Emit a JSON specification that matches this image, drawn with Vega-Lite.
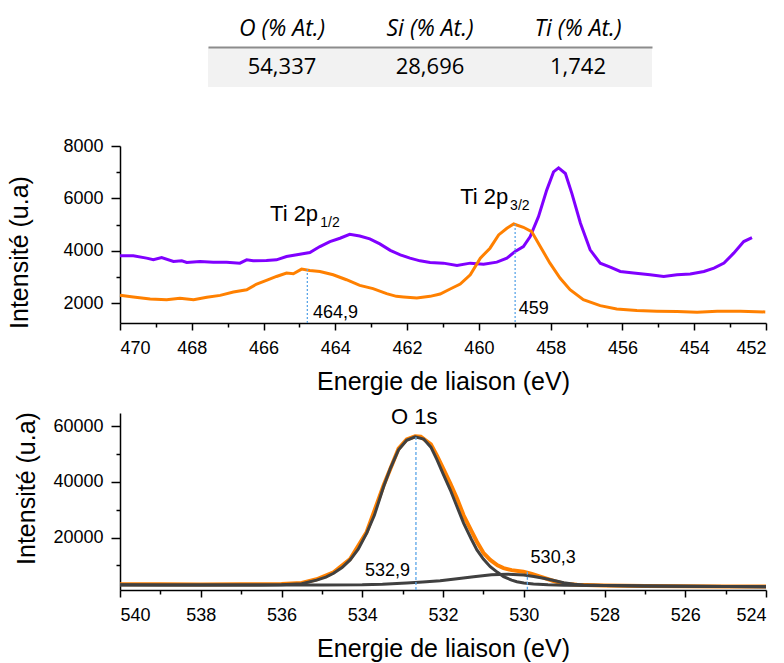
{
  "$schema": "https://vega.github.io/schema/vega-lite/v6.json",
  "background": "white",
  "padding": {"left": 6, "top": 7, "right": 5, "bottom": 5},
  "bounds": "flush",
  "spacing": 90,
  "config": {
    "view": {"stroke": null},
    "axis": {"domainColor": "#000", "domainWidth": 1.5, "tickColor": "#000", "tickWidth": 1.5, "labelFont": "Liberation Sans", "labelFontSize": 18, "labelColor": "#000", "titleFont": "Liberation Sans", "titleFontSize": 25, "titleFontWeight": "normal", "titleColor": "#000", "grid": false},
    "text": {"font": "Liberation Sans", "color": "#000"}
  },
  "datasets": {
    "table": [
      {"col": "O (% At.)", "row": "v", "val": "54,337"},
      {"col": "Si (% At.)", "row": "v", "val": "28,696"},
      {"col": "Ti (% At.)", "row": "v", "val": "1,742"}
    ],
    "ti": [
      {"s": "p", "E": 470, "v": 3812}, {"s": "p", "E": 469.63, "v": 3812}, {"s": "p", "E": 469.26, "v": 3724}, {"s": "p", "E": 469.07, "v": 3660}, {"s": "p", "E": 468.84, "v": 3747}, {"s": "p", "E": 468.51, "v": 3595}, {"s": "p", "E": 468.28, "v": 3620}, {"s": "p", "E": 468.14, "v": 3557}, {"s": "p", "E": 467.77, "v": 3595}, {"s": "p", "E": 467.4, "v": 3570}, {"s": "p", "E": 467.03, "v": 3570}, {"s": "p", "E": 466.66, "v": 3533}, {"s": "p", "E": 466.47, "v": 3660}, {"s": "p", "E": 466.29, "v": 3620}, {"s": "p", "E": 465.92, "v": 3635}, {"s": "p", "E": 465.64, "v": 3660}, {"s": "p", "E": 465.36, "v": 3785}, {"s": "p", "E": 464.99, "v": 3875}, {"s": "p", "E": 464.71, "v": 3937}, {"s": "p", "E": 464.43, "v": 4165}, {"s": "p", "E": 464.15, "v": 4355}, {"s": "p", "E": 463.87, "v": 4482}, {"s": "p", "E": 463.6, "v": 4634}, {"s": "p", "E": 463.32, "v": 4570}, {"s": "p", "E": 463.04, "v": 4457}, {"s": "p", "E": 462.76, "v": 4267}, {"s": "p", "E": 462.47, "v": 4020}, {"s": "p", "E": 462.19, "v": 3850}, {"s": "p", "E": 461.92, "v": 3724}, {"s": "p", "E": 461.64, "v": 3620}, {"s": "p", "E": 461.36, "v": 3557}, {"s": "p", "E": 460.99, "v": 3533}, {"s": "p", "E": 460.61, "v": 3443}, {"s": "p", "E": 460.24, "v": 3533}, {"s": "p", "E": 459.87, "v": 3495}, {"s": "p", "E": 459.5, "v": 3570}, {"s": "p", "E": 459.22, "v": 3724}, {"s": "p", "E": 458.99, "v": 3976}, {"s": "p", "E": 458.76, "v": 4165}, {"s": "p", "E": 458.57, "v": 4545}, {"s": "p", "E": 458.34, "v": 5304}, {"s": "p", "E": 458.11, "v": 6318}, {"s": "p", "E": 457.92, "v": 7013}, {"s": "p", "E": 457.78, "v": 7165}, {"s": "p", "E": 457.59, "v": 6952}, {"s": "p", "E": 457.41, "v": 6193}, {"s": "p", "E": 457.17, "v": 5053}, {"s": "p", "E": 456.9, "v": 4040}, {"s": "p", "E": 456.62, "v": 3533}, {"s": "p", "E": 456.34, "v": 3382}, {"s": "p", "E": 456.06, "v": 3215}, {"s": "p", "E": 455.69, "v": 3155}, {"s": "p", "E": 455.23, "v": 3090}, {"s": "p", "E": 454.85, "v": 3025}, {"s": "p", "E": 454.48, "v": 3090}, {"s": "p", "E": 454.11, "v": 3115}, {"s": "p", "E": 453.73, "v": 3215}, {"s": "p", "E": 453.45, "v": 3344}, {"s": "p", "E": 453.17, "v": 3533}, {"s": "p", "E": 452.9, "v": 3913}, {"s": "p", "E": 452.62, "v": 4355}, {"s": "p", "E": 452.39, "v": 4507},
      {"s": "o", "E": 470, "v": 2304}, {"s": "o", "E": 469.63, "v": 2243}, {"s": "o", "E": 469.16, "v": 2167}, {"s": "o", "E": 468.7, "v": 2140}, {"s": "o", "E": 468.33, "v": 2190}, {"s": "o", "E": 467.95, "v": 2140}, {"s": "o", "E": 467.58, "v": 2230}, {"s": "o", "E": 467.21, "v": 2304}, {"s": "o", "E": 466.84, "v": 2433}, {"s": "o", "E": 466.47, "v": 2520}, {"s": "o", "E": 466.19, "v": 2737}, {"s": "o", "E": 465.92, "v": 2874}, {"s": "o", "E": 465.64, "v": 3025}, {"s": "o", "E": 465.36, "v": 3155}, {"s": "o", "E": 465.17, "v": 3130}, {"s": "o", "E": 464.94, "v": 3306}, {"s": "o", "E": 464.71, "v": 3255}, {"s": "o", "E": 464.43, "v": 3215}, {"s": "o", "E": 464.06, "v": 3090}, {"s": "o", "E": 463.69, "v": 2900}, {"s": "o", "E": 463.32, "v": 2684}, {"s": "o", "E": 462.95, "v": 2560}, {"s": "o", "E": 462.57, "v": 2368}, {"s": "o", "E": 462.3, "v": 2266}, {"s": "o", "E": 462.1, "v": 2243}, {"s": "o", "E": 461.73, "v": 2205}, {"s": "o", "E": 461.36, "v": 2266}, {"s": "o", "E": 461.08, "v": 2357}, {"s": "o", "E": 460.8, "v": 2547}, {"s": "o", "E": 460.52, "v": 2737}, {"s": "o", "E": 460.24, "v": 3090}, {"s": "o", "E": 459.96, "v": 3724}, {"s": "o", "E": 459.69, "v": 4103}, {"s": "o", "E": 459.45, "v": 4609}, {"s": "o", "E": 459.22, "v": 4862}, {"s": "o", "E": 459.03, "v": 5027}, {"s": "o", "E": 458.76, "v": 4900}, {"s": "o", "E": 458.53, "v": 4735}, {"s": "o", "E": 458.29, "v": 4165}, {"s": "o", "E": 458.02, "v": 3533}, {"s": "o", "E": 457.74, "v": 2965}, {"s": "o", "E": 457.46, "v": 2520}, {"s": "o", "E": 457.09, "v": 2140}, {"s": "o", "E": 456.62, "v": 1913}, {"s": "o", "E": 456.16, "v": 1787}, {"s": "o", "E": 455.6, "v": 1723}, {"s": "o", "E": 455.04, "v": 1697}, {"s": "o", "E": 454.48, "v": 1685}, {"s": "o", "E": 453.92, "v": 1660}, {"s": "o", "E": 453.36, "v": 1697}, {"s": "o", "E": 452.71, "v": 1697}, {"s": "o", "E": 452.02, "v": 1672}
    ],
    "tiRules": [{"E": 464.78, "v": 3306}, {"E": 458.99, "v": 5027}],
    "tiPeaks": [{"E": 464.62, "v": 1445, "t": "464,9"}, {"E": 458.89, "v": 1608, "t": "459"}],
    "tiNames": [{"E": 465.82, "v": 5152, "t": "Ti 2p", "Es": 464.42, "sub": "1/2"}, {"E": 460.52, "v": 5787, "t": "Ti 2p", "Es": 459.13, "sub": "3/2"}],
    "o1s": [
      {"s": "o", "E": 540, "v": 3250}, {"s": "o", "E": 539, "v": 3200}, {"s": "o", "E": 538, "v": 3150}, {"s": "o", "E": 537, "v": 3200}, {"s": "o", "E": 536, "v": 3300}, {"s": "o", "E": 535.5, "v": 3700}, {"s": "o", "E": 535.13, "v": 5000}, {"s": "o", "E": 534.71, "v": 7500}, {"s": "o", "E": 534.3, "v": 12300}, {"s": "o", "E": 533.89, "v": 22000}, {"s": "o", "E": 533.47, "v": 38800}, {"s": "o", "E": 533.1, "v": 52000}, {"s": "o", "E": 532.9, "v": 55300}, {"s": "o", "E": 532.69, "v": 56400}, {"s": "o", "E": 532.55, "v": 56300}, {"s": "o", "E": 532.3, "v": 53500}, {"s": "o", "E": 532.15, "v": 49500}, {"s": "o", "E": 532.0, "v": 45000}, {"s": "o", "E": 531.82, "v": 39500}, {"s": "o", "E": 531.65, "v": 34000}, {"s": "o", "E": 531.49, "v": 28000}, {"s": "o", "E": 531.3, "v": 22500}, {"s": "o", "E": 531.16, "v": 18500}, {"s": "o", "E": 531.0, "v": 14500}, {"s": "o", "E": 530.83, "v": 11960}, {"s": "o", "E": 530.65, "v": 10000}, {"s": "o", "E": 530.5, "v": 9000}, {"s": "o", "E": 530.3, "v": 8300}, {"s": "o", "E": 530.01, "v": 7750}, {"s": "o", "E": 529.8, "v": 6900}, {"s": "o", "E": 529.59, "v": 5945}, {"s": "o", "E": 529.26, "v": 4400}, {"s": "o", "E": 529.0, "v": 3400}, {"s": "o", "E": 528.68, "v": 3000}, {"s": "o", "E": 528, "v": 2800}, {"s": "o", "E": 527, "v": 2600}, {"s": "o", "E": 526, "v": 2500}, {"s": "o", "E": 525, "v": 2450}, {"s": "o", "E": 524, "v": 2400},
      {"s": "g1", "E": 540, "v": 3000}, {"s": "g1", "E": 539, "v": 2980}, {"s": "g1", "E": 538, "v": 2960}, {"s": "g1", "E": 537, "v": 2950}, {"s": "g1", "E": 536.5, "v": 2950}, {"s": "g1", "E": 536, "v": 3000}, {"s": "g1", "E": 535.5, "v": 3400}, {"s": "g1", "E": 535.13, "v": 4700}, {"s": "g1", "E": 534.9, "v": 5800}, {"s": "g1", "E": 534.71, "v": 7170}, {"s": "g1", "E": 534.5, "v": 9200}, {"s": "g1", "E": 534.3, "v": 11960}, {"s": "g1", "E": 534.1, "v": 15800}, {"s": "g1", "E": 533.89, "v": 21590}, {"s": "g1", "E": 533.7, "v": 28000}, {"s": "g1", "E": 533.47, "v": 38380}, {"s": "g1", "E": 533.3, "v": 45000}, {"s": "g1", "E": 533.1, "v": 51600}, {"s": "g1", "E": 532.9, "v": 55000}, {"s": "g1", "E": 532.69, "v": 56200}, {"s": "g1", "E": 532.48, "v": 55460}, {"s": "g1", "E": 532.3, "v": 52500}, {"s": "g1", "E": 532.15, "v": 48000}, {"s": "g1", "E": 532.0, "v": 43000}, {"s": "g1", "E": 531.82, "v": 37190}, {"s": "g1", "E": 531.65, "v": 31000}, {"s": "g1", "E": 531.49, "v": 25190}, {"s": "g1", "E": 531.3, "v": 19500}, {"s": "g1", "E": 531.16, "v": 15570}, {"s": "g1", "E": 531.0, "v": 12300}, {"s": "g1", "E": 530.83, "v": 9550}, {"s": "g1", "E": 530.65, "v": 7500}, {"s": "g1", "E": 530.5, "v": 5945}, {"s": "g1", "E": 530.3, "v": 4700}, {"s": "g1", "E": 530.17, "v": 4144}, {"s": "g1", "E": 530.0, "v": 3650}, {"s": "g1", "E": 529.76, "v": 3315}, {"s": "g1", "E": 529.4, "v": 3050}, {"s": "g1", "E": 529, "v": 2900}, {"s": "g1", "E": 528, "v": 2750}, {"s": "g1", "E": 527, "v": 2600}, {"s": "g1", "E": 526, "v": 2500}, {"s": "g1", "E": 525, "v": 2420}, {"s": "g1", "E": 524, "v": 2350},
      {"s": "g2", "E": 540, "v": 2950}, {"s": "g2", "E": 538, "v": 2950}, {"s": "g2", "E": 536, "v": 2950}, {"s": "g2", "E": 535, "v": 2980}, {"s": "g2", "E": 534, "v": 3000}, {"s": "g2", "E": 533.5, "v": 3200}, {"s": "g2", "E": 532.9, "v": 3700}, {"s": "g2", "E": 532.5, "v": 4050}, {"s": "g2", "E": 532.07, "v": 4500}, {"s": "g2", "E": 531.65, "v": 5200}, {"s": "g2", "E": 531.24, "v": 5950}, {"s": "g2", "E": 530.8, "v": 6600}, {"s": "g2", "E": 530.41, "v": 6850}, {"s": "g2", "E": 530.0, "v": 6560}, {"s": "g2", "E": 529.75, "v": 6000}, {"s": "g2", "E": 529.51, "v": 5370}, {"s": "g2", "E": 529.25, "v": 4550}, {"s": "g2", "E": 529.01, "v": 3780}, {"s": "g2", "E": 528.75, "v": 3250}, {"s": "g2", "E": 528.52, "v": 2950}, {"s": "g2", "E": 528, "v": 2750}, {"s": "g2", "E": 527, "v": 2600}, {"s": "g2", "E": 526, "v": 2500}, {"s": "g2", "E": 525, "v": 2420}, {"s": "g2", "E": 524, "v": 2350}
    ],
    "oRules": [{"E": 532.67, "v": 56200}, {"E": 529.91, "v": 7750}],
    "oPeaks": [{"E": 533.93, "v": 6200, "t": "532,9"}, {"E": 529.83, "v": 10770, "t": "530,3"}],
    "oNames": [{"E": 533.29, "v": 60970, "t": "O 1s"}]
  },
  "vconcat": [
    {
      "width": 646,
      "height": 49,
      "data": {"name": "table"},
      "encoding": {
        "x": {"field": "col", "type": "nominal", "sort": null,
          "scale": {"domain": ["O (% At.)", "Si (% At.)", "Ti (% At.)"], "range": [88, 532], "paddingInner": 0, "paddingOuter": 0},
          "axis": {"orient": "top", "offset": -40, "title": null, "ticks": false, "tickSize": 0, "domain": true, "domainColor": "#8c8c8c", "domainWidth": 2, "labelFont": "Open Sans", "labelFontStyle": "italic", "labelFontSize": 23, "labelPadding": 7, "labelAngle": 0, "labelColor": "#000", "zindex": 1}},
        "y": {"field": "row", "type": "nominal", "scale": {"domain": ["h", "v"], "range": [0, 80], "paddingInner": 0, "paddingOuter": 0}, "axis": null}
      },
      "layer": [
        {"mark": {"type": "rect", "color": "#f2f2f2"}},
        {"mark": {"type": "text", "font": "Open Sans", "fontSize": 22, "baseline": "middle", "color": "#000"},
         "encoding": {"text": {"field": "val"}}}
      ]
    },
    {
      "width": 646,
      "height": 177,
      "resolve": {"axis": {"x": "independent", "y": "independent"}},
      "layer": [
        {
          "data": {"name": "ti"},
          "transform": [{"filter": "datum.s === 'p'"}],
          "mark": {"type": "line", "color": "#8000ff", "strokeWidth": 3},
          "encoding": {
            "x": {"field": "E", "type": "quantitative", "sort": null, "scale": {"domain": [452, 470], "reverse": true, "nice": false, "zero": false},
              "axis": {"orient": "bottom", "values": [470, 468, 466, 464, 462, 460, 458, 456, 454, 452], "format": "d", "title": "Energie de liaison (eV)", "tickSize": 7, "labelPadding": 9, "titlePadding": 12}},
            "y": {"field": "v", "type": "quantitative", "scale": {"domain": [1250, 8000], "nice": false, "zero": false},
              "axis": {"orient": "left", "values": [2000, 4000, 6000, 8000], "format": "d", "title": "Intensité (u.a)", "tickSize": 9, "labelPadding": 8, "titleX": -88, "titleY": 106}}
          }
        },
        {
          "data": {"name": "ti"},
          "transform": [{"filter": "datum.s === 'o'"}],
          "mark": {"type": "line", "color": "#ff8000", "strokeWidth": 3},
          "encoding": {
            "x": {"field": "E", "type": "quantitative", "sort": null, "scale": {"domain": [452, 470], "reverse": true, "nice": false, "zero": false},
              "axis": {"orient": "bottom", "values": [469, 467, 465, 463, 461, 459, 457, 455, 453], "labels": false, "domain": false, "tickSize": 4, "title": null}},
            "y": {"field": "v", "type": "quantitative", "scale": {"domain": [1250, 8000], "nice": false, "zero": false},
              "axis": {"orient": "left", "values": [3000, 5000, 7000], "labels": false, "domain": false, "tickSize": 4, "title": null}}
          }
        },
        {
          "data": {"name": "tiRules"},
          "mark": {"type": "rule", "color": "#5aa5e8", "strokeWidth": 1.3, "strokeDash": [2, 2]},
          "encoding": {
            "x": {"field": "E", "type": "quantitative", "scale": {"domain": [452, 470], "reverse": true, "nice": false, "zero": false}, "axis": null},
            "y": {"field": "v", "type": "quantitative", "scale": {"domain": [1250, 8000], "nice": false, "zero": false}, "axis": null},
            "y2": {"datum": 1250}
          }
        },
        {
          "data": {"name": "tiPeaks"},
          "mark": {"type": "text", "fontSize": 18, "align": "left", "baseline": "alphabetic"},
          "encoding": {
            "x": {"field": "E", "type": "quantitative", "scale": {"domain": [452, 470], "reverse": true, "nice": false, "zero": false}, "axis": null},
            "y": {"field": "v", "type": "quantitative", "scale": {"domain": [1250, 8000], "nice": false, "zero": false}, "axis": null},
            "text": {"field": "t"}
          }
        },
        {
          "data": {"name": "tiNames"},
          "mark": {"type": "text", "fontSize": 22, "align": "left", "baseline": "alphabetic"},
          "encoding": {
            "x": {"field": "E", "type": "quantitative", "scale": {"domain": [452, 470], "reverse": true, "nice": false, "zero": false}, "axis": null},
            "y": {"field": "v", "type": "quantitative", "scale": {"domain": [1250, 8000], "nice": false, "zero": false}, "axis": null},
            "text": {"field": "t"}
          }
        },
        {
          "data": {"name": "tiNames"},
          "mark": {"type": "text", "fontSize": 14, "align": "left", "baseline": "alphabetic", "dy": 6},
          "encoding": {
            "x": {"field": "Es", "type": "quantitative", "scale": {"domain": [452, 470], "reverse": true, "nice": false, "zero": false}, "axis": null},
            "y": {"field": "v", "type": "quantitative", "scale": {"domain": [1250, 8000], "nice": false, "zero": false}, "axis": null},
            "text": {"field": "sub"}
          }
        }
      ]
    },
    {
      "width": 646,
      "height": 177,
      "resolve": {"axis": {"x": "independent", "y": "independent"}},
      "layer": [
        {
          "data": {"name": "o1s"},
          "transform": [{"filter": "datum.s === 'o'"}],
          "mark": {"type": "line", "color": "#ff8000", "strokeWidth": 4},
          "encoding": {
            "x": {"field": "E", "type": "quantitative", "sort": null, "scale": {"domain": [524, 540], "reverse": true, "nice": false, "zero": false},
              "axis": {"orient": "bottom", "values": [539, 537, 535, 533, 531, 529, 527, 525], "labels": false, "domain": false, "tickSize": 4, "title": null}},
            "y": {"field": "v", "type": "quantitative", "scale": {"domain": [1150, 64800], "nice": false, "zero": false},
              "axis": {"orient": "left", "values": [10000, 30000, 50000], "labels": false, "domain": false, "tickSize": 4, "title": null}}
          }
        },
        {
          "data": {"name": "o1s"},
          "transform": [{"filter": "datum.s === 'g1'"}],
          "mark": {"type": "line", "color": "#404040", "strokeWidth": 3},
          "encoding": {
            "x": {"field": "E", "type": "quantitative", "sort": null, "scale": {"domain": [524, 540], "reverse": true, "nice": false, "zero": false},
              "axis": {"orient": "bottom", "values": [540, 538, 536, 534, 532, 530, 528, 526, 524], "format": "d", "title": "Energie de liaison (eV)", "tickSize": 7, "labelPadding": 9, "titlePadding": 12}},
            "y": {"field": "v", "type": "quantitative", "scale": {"domain": [1150, 64800], "nice": false, "zero": false},
              "axis": {"orient": "left", "values": [20000, 40000, 60000], "format": "d", "title": "Intensité (u.a)", "tickSize": 9, "labelPadding": 8, "titleX": -81, "titleY": 75}}
          }
        },
        {
          "data": {"name": "o1s"},
          "transform": [{"filter": "datum.s === 'g2'"}],
          "mark": {"type": "line", "color": "#404040", "strokeWidth": 3},
          "encoding": {
            "x": {"field": "E", "type": "quantitative", "sort": null, "scale": {"domain": [524, 540], "reverse": true, "nice": false, "zero": false}, "axis": null},
            "y": {"field": "v", "type": "quantitative", "scale": {"domain": [1150, 64800], "nice": false, "zero": false}, "axis": null}
          }
        },
        {
          "data": {"name": "oRules"},
          "mark": {"type": "rule", "color": "#5aa5e8", "strokeWidth": 1.3, "strokeDash": [3, 2]},
          "encoding": {
            "x": {"field": "E", "type": "quantitative", "scale": {"domain": [524, 540], "reverse": true, "nice": false, "zero": false}, "axis": null},
            "y": {"field": "v", "type": "quantitative", "scale": {"domain": [1150, 64800], "nice": false, "zero": false}, "axis": null},
            "y2": {"datum": 1150}
          }
        },
        {
          "data": {"name": "oPeaks"},
          "mark": {"type": "text", "fontSize": 18, "align": "left", "baseline": "alphabetic"},
          "encoding": {
            "x": {"field": "E", "type": "quantitative", "scale": {"domain": [524, 540], "reverse": true, "nice": false, "zero": false}, "axis": null},
            "y": {"field": "v", "type": "quantitative", "scale": {"domain": [1150, 64800], "nice": false, "zero": false}, "axis": null},
            "text": {"field": "t"}
          }
        },
        {
          "data": {"name": "oNames"},
          "mark": {"type": "text", "fontSize": 22, "align": "left", "baseline": "alphabetic"},
          "encoding": {
            "x": {"field": "E", "type": "quantitative", "scale": {"domain": [524, 540], "reverse": true, "nice": false, "zero": false}, "axis": null},
            "y": {"field": "v", "type": "quantitative", "scale": {"domain": [1150, 64800], "nice": false, "zero": false}, "axis": null},
            "text": {"field": "t"}
          }
        }
      ]
    }
  ]
}
